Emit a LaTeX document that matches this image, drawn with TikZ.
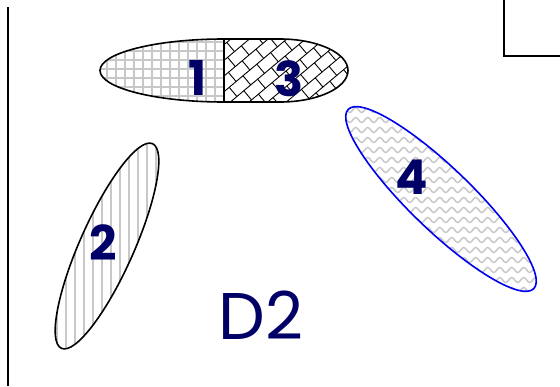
\documentclass[tikz,border=0pt]{standalone}
\usepackage{fontspec}
\setmainfont{Poppins}
\usepackage{tikz}
\usetikzlibrary{decorations.pathmorphing}
\definecolor{navy}{HTML}{000066}
\definecolor{hatch}{HTML}{C8C8C8}
\definecolor{bluerim}{HTML}{0000EE}

\begin{document}
\begin{tikzpicture}[x=1pt, y=-1pt,
    outline/.style={draw=black, line width=1.6pt},
    numlabel/.style={text=navy, font=\fontsize{48}{48}\selectfont\bfseries, inner sep=0pt},
    hatchline/.style={hatch, line width=1.8pt},
    waveline/.style={hatch, line width=1.5pt, decorate, decoration={snake, segment length=12, amplitude=2.5}},
    brickline/.style={black, line width=0.9pt}]
    \useasboundingbox (0,0) rectangle (560,386);

    % frame pieces
    \draw[line width=1.6pt] (8,7) -- (8,386);
    \draw[line width=1.6pt] (504,0) -- (504,56) -- (560,56);

    % region 1 : grid
    \begin{scope}
        \clip (224,39) arc[start angle=270, end angle=90, x radius=124, y radius=31.5] -- cycle;
        \foreach \x in {98,107,...,230} \draw[hatchline] (\x,30) -- (\x,110);
        \foreach \y in {42,51,...,110} \draw[hatchline] (90,\y) -- (230,\y);
    \end{scope}

    % region 3 : bricks
    \begin{scope}
        \clip (224,39) -- (280,39) arc[start angle=-90, end angle=90, x radius=68, y radius=31.5] -- (224,102) -- cycle;
        \begin{scope}[shift={(286,71)}, rotate=40]
            \foreach \r in {-8,...,8} {
                \draw[brickline] (-150,\r*12) -- (150,\r*12);
                \pgfmathsetmacro{\off}{mod(abs(\r),2)*9}
                \foreach \k in {-9,...,9}
                    \draw[brickline] (\k*18+\off,\r*12) -- (\k*18+\off,\r*12+12);
            }
        \end{scope}
    \end{scope}

    % region 2 : vertical lines
    \begin{scope}
        \clip[shift={(107,246)}, rotate=66] (0,0) ellipse (112 and 27);
        \foreach \x in {48,57,...,170} \draw[hatchline] (\x,130) -- (\x,360);
    \end{scope}

    % region 4 : waves
    \begin{scope}
        \clip[shift={(441,199)}, rotate=-44] (0,0) ellipse (129 and 31);
        \foreach \y in {100,110,...,300}
            \draw[waveline] (340,\y) -- (545,\y);
    \end{scope}

    % outlines
    \draw[outline] (224,39) -- (280,39) arc[start angle=-90, end angle=90, x radius=68, y radius=31.5]
        -- (224,102) arc[start angle=90, end angle=270, x radius=124, y radius=31.5] -- cycle;
    \draw[outline] (224,39) -- (224,102);
    \draw[outline, shift={(107,246)}, rotate=66] (0,0) ellipse (112 and 27);
    \draw[outline, draw=bluerim, shift={(441,199)}, rotate=-44] (0,0) ellipse (129 and 31);

    \node[numlabel] (one) at (198,78) {1};
    \node[numlabel] (three) at (289,79) {3};
    \node[numlabel] (two) at (103,243) {2};
    \node[numlabel] (four) at (412,177) {4};
    \node[text=navy, font=\fontsize{66}{66}\selectfont, inner sep=0pt] (dtwo) at (261,315) {D2};
\end{tikzpicture}
\end{document}
